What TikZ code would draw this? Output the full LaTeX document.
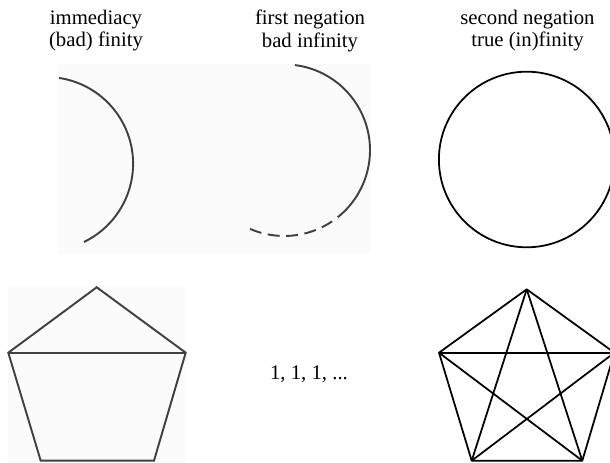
\documentclass[tikz,border=0pt]{standalone}
\usepackage{fontspec}
\setmainfont{Liberation Serif}
\usetikzlibrary{calc}
\definecolor{scangray}{gray}{0.25}
\definecolor{paper}{gray}{0.986}
\tikzset{
  caption/.style={align=center, anchor=north, inner sep=0pt, font=\fontsize{11.8}{12.9}\selectfont},
  oldline/.style={draw=scangray, line width=1.1pt},
  newline/.style={draw=black, line width=1.0pt}
}

\begin{document}
\begin{tikzpicture}
            \useasboundingbox (0,0) rectangle (12.2,9.26);
            % faint scanned backgrounds
            \path[fill=paper](1.16,4.18)rectangle(7.42,7.98);
            \path[fill=paper](0.16,0)rectangle(3.72,3.53);
            % captions
            \node[caption](imm)at(1.92,9.07){immediacy\\(bad) finity};
            \node[caption](first)at(6.2,9.07){first negation\\bad infinity};
            \node[caption](second)at(10.55,9.07){second negation\\true (in)finity};
            % centers of the circles
            \coordinate(C1)at(0.926,5.984);
            \coordinate(C2)at(5.684,6.256);
            \coordinate(C3)at(10.534,6.07);
            % arc of immediacy
            \path[oldline]([shift={(81.6:1.736)}]C1)arc(81.6:-64.3:1.736);
            % arc of first negation, solid then dashed
            \path[oldline]([shift={(82.8:1.716)}]C2)arc(82.8:-51.4:1.716);
            \path[oldline, dash pattern=on 0.24cm off 0.13cm]([shift={(-56:1.716)}]C2)arc(-56:-114.7:1.716);
            % whole circle
            \path[newline](C3)circle(1.756);
            % corners of the left pentagon
            \coordinate(PT)at(1.934,3.514);
            \coordinate(PL)at(0.166,2.206);
            \coordinate(PR)at(3.714,2.206);
            \coordinate(PBL)at(0.814,0.046);
            \coordinate(PBR)at(3.08,0.046);
            \path[oldline](PL)to(PT)to(PR)to(PBR)to(PBL)to cycle;
            \path[oldline](PL)to(PR);
            % sequence
            \node[anchor=base, inner sep=0pt, font=\fontsize{11.8}{12.9}\selectfont](seq)at(6.18,1.66){1, 1, 1, ...};
            % corners of the right pentagon
            \coordinate(QT)at(10.534,3.474);
            \coordinate(QL)at(8.78,2.206);
            \coordinate(QR)at(12.288,2.206);
            \coordinate(QBL)at(9.434,0.046);
            \coordinate(QBR)at(11.646,0.046);
            \path[newline, line join=round](QL)to(QT)to(QR)to(QBR)to(QBL)to cycle;
            \path[newline](QL)to(QR);
            \path[newline](QT)to(QBL);
            \path[newline](QT)to(QBR);
            \path[newline](QL)to(QBR);
            \path[newline](QR)to(QBL);
\end{tikzpicture}
\end{document}
